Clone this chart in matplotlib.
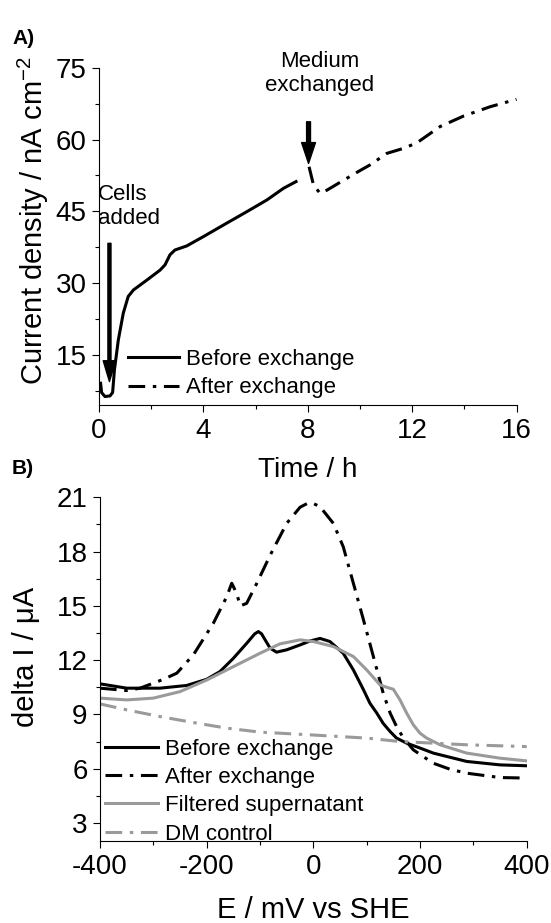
import matplotlib
matplotlib.use('Agg')
from matplotlib import pyplot as plt
from matplotlib.ticker import MultipleLocator

plt.rcParams['font.family'] = ['Liberation Sans', 'DejaVu Sans']
plt.rcParams['mathtext.fontset'] = 'custom'
plt.rcParams['mathtext.rm'] = 'Liberation Sans'
plt.rcParams['axes.unicode_minus'] = False
plt.rcParams['lines.scale_dashes'] = False

# panel A: chronoamperometry
t_before = [0.06, 0.10, 0.23, 0.42, 0.52, 0.55, 0.59, 0.74, 0.93, 1.12, 1.32, 1.83,
            2.34, 2.53, 2.72, 2.91, 3.36, 4.0, 4.89, 5.66, 6.43, 7.07, 7.55]
j_before = [9.05, 7.1, 6.27, 6.4, 7.1, 9.05, 11.8, 18.1, 23.7, 27.2, 28.55, 30.6,
            32.7, 33.8, 35.9, 36.9, 37.75, 39.7, 42.5, 44.9, 47.35, 49.8, 51.2]
t_after = [8.05, 8.22, 8.47, 8.73, 9.1, 9.5, 10.0, 10.39, 11.03, 11.67, 12.18, 13.07,
           13.97, 14.99, 16.0]
j_after = [54.3, 50.5, 48.75, 49.4, 50.6, 51.9, 53.5, 54.7, 57.1, 58.15, 59.3, 62.7,
           64.9, 66.85, 68.4]

# panel B: DPV
e_before = [-400, -350, -287.5, -237.5, -200, -175, -150, -125, -110, -103, -97, -90,
            -81, -69, -50, -25, -6, 12.5, 31, 56, 75, 94, 106, 119, 131, 144, 156, 175,
            200, 225, 287.5, 350, 400]
i_before = [10.69, 10.45, 10.45, 10.6, 10.94, 11.37, 12.1, 12.93, 13.45, 13.58, 13.45, 13.1,
            12.66, 12.44, 12.57, 12.84, 13.06, 13.2, 13.03, 12.38, 11.46, 10.36, 9.62, 9.07,
            8.5, 8.05, 7.69, 7.41, 7.14, 6.86, 6.4, 6.21, 6.16]
e_after = [-400, -350, -325, -281, -256, -225, -187.5, -162.5, -153, -144, -137, -125,
           -106, -81, -50, -25, -12, -3, 12.5, 37.5, 56, 75, 94, 112.5, 131, 144, 156,
           169, 187.5, 206, 225, 256, 287.5, 350, 400]
i_after = [10.45, 10.32, 10.45, 10.94, 11.28, 12.29, 14.04, 15.5, 16.25, 15.7, 15.0, 15.14,
           16.25, 17.8, 19.56, 20.45, 20.65, 20.7, 20.48, 19.56, 18.27, 16.25, 14.22, 12.2,
           10.17, 9.07, 8.33, 7.69, 7.04, 6.67, 6.3, 5.97, 5.75, 5.51, 5.48]
e_filt = [-400, -350, -300, -250, -200, -150, -100, -62.5, -25, 0, 37.5, 75, 100, 125,
          137.5, 150, 162.5, 175, 187.5, 200, 212.5, 237.5, 287.5, 350, 400]
i_filt = [9.9, 9.8, 9.9, 10.26, 10.9, 11.64, 12.38, 12.9, 13.12, 13.03, 12.75, 12.2, 11.46,
          10.63, 10.5, 10.39, 9.8, 9.07, 8.42, 7.96, 7.69, 7.32, 6.86, 6.58, 6.43]
e_dm = [-400, -350, -287.5, -225, -162.5, -100, -6, 100, 162.5, 225, 287.5, 400]
i_dm = [9.58, 9.25, 8.88, 8.55, 8.24, 8.02, 7.87, 7.69, 7.5, 7.41, 7.32, 7.22]

dashdot = (0, (12, 5.5, 2.5, 5.5))
grey = '#9a9a9a'

fig = plt.figure(figsize=(5.51, 9.23), dpi=100)
axA = fig.add_axes([0.1797, 0.5612, 0.7577, 0.3654])
axB = fig.add_axes([0.1815, 0.0888, 0.7744, 0.3724])

for ax in (axA, axB):
    ax.spines['top'].set_visible(False)
    ax.spines['right'].set_visible(False)
    ax.tick_params(which='major', direction='out', length=5, width=0.8, labelsize=20, pad=4)
    ax.tick_params(which='minor', direction='out', length=3, width=0.8)

axA.plot(t_before, j_before, color='k', lw=2.2, label='Before exchange')
axA.plot(t_after, j_after, color='k', lw=2.2, ls=dashdot, label='After exchange')
axA.set_xlim(0, 16)
axA.set_ylim(4.5, 75)
axA.xaxis.set_major_locator(MultipleLocator(4))
axA.xaxis.set_minor_locator(MultipleLocator(2))
axA.set_yticks([15, 30, 45, 60, 75])
axA.yaxis.set_minor_locator(MultipleLocator(7.5))
axA.set_xlabel('Time / h', fontsize=20, labelpad=10)
axA.set_ylabel('Current density / nA cm$^{-2}$', fontsize=21, labelpad=3, y=0.548)
axA.legend(loc='upper left', bbox_to_anchor=(0.069, 0.166), frameon=False, fontsize=16,
           handlelength=2.3, handletextpad=0.31, borderpad=0, borderaxespad=0,
           labelspacing=0.33)

axA.annotate('', xy=(0.4, 9.4), xytext=(0.4, 38.3),
             arrowprops=dict(width=2.2, headwidth=9, headlength=15, color='k', shrink=0))
axA.annotate('', xy=(8.03, 55.0), xytext=(8.03, 63.7),
             arrowprops=dict(width=2.8, headwidth=10, headlength=15, color='k', shrink=0))
axA.text(-0.05, 50.8, 'Cells\nadded', fontsize=16, ha='left', va='top')
axA.text(8.47, 78.6, 'Medium\nexchanged', fontsize=16, ha='center', va='top',
         multialignment='center', clip_on=False)

axB.plot(e_before, i_before, color='k', lw=2.2, label='Before exchange')
axB.plot(e_after, i_after, color='k', lw=2.2, ls=dashdot, label='After exchange')
axB.plot(e_filt, i_filt, color=grey, lw=2.2, label='Filtered supernatant')
axB.plot(e_dm, i_dm, color=grey, lw=2.2, ls=dashdot, label='DM control')
axB.set_xlim(-400, 400)
axB.set_ylim(2, 21)
axB.xaxis.set_major_locator(MultipleLocator(200))
axB.xaxis.set_minor_locator(MultipleLocator(100))
axB.set_yticks([3, 6, 9, 12, 15, 18, 21])
axB.yaxis.set_minor_locator(MultipleLocator(1.5))
axB.set_xlabel('E / mV vs SHE', fontsize=21, labelpad=12)
axB.set_ylabel('delta I / μA', fontsize=21, labelpad=12, y=0.535)
axB.legend(loc='upper left', bbox_to_anchor=(0.012, 0.298), frameon=False, fontsize=16,
           handlelength=2.4, handletextpad=0.31, borderpad=0, borderaxespad=0,
           labelspacing=0.33)

fig.text(0.022, 0.958, 'A)', fontsize=15, fontweight='bold', ha='left', va='center')
fig.text(0.022, 0.492, 'B)', fontsize=15, fontweight='bold', ha='left', va='center')

fig.savefig('out.png', dpi=100)
